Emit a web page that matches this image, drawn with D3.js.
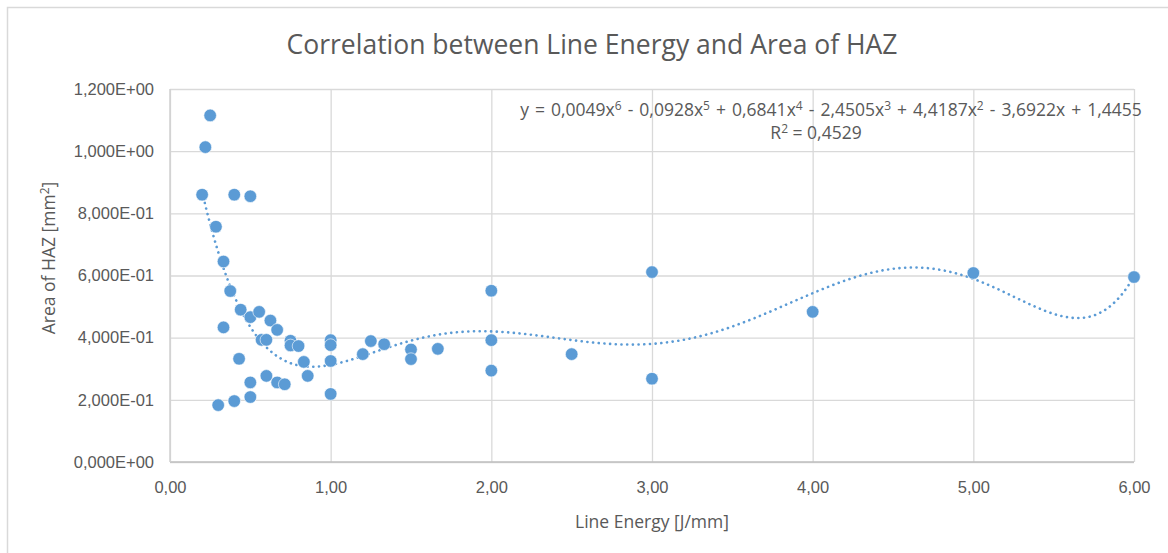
<!DOCTYPE html>
<html lang="en">
<head>
    <meta charset="UTF-8">
    <title>Correlation between Line Energy and Area of HAZ</title>
    <script src="https://d3js.org/d3.v7.min.js"></script>
    <style>
        body { margin: 0; background: #fff; font-family: "Open Sans", Arial, sans-serif; }
        .grid line { stroke: #d9d9d9; stroke-width: 1.3; }
        .tick text { fill: #595959; font-size: 16.5px; }
    </style>
</head>
<body>
    <div id="chart"></div>

    <script>
        // Line energy [J/mm] of each weld
        const lineEnergy = [
            0.20, 0.22, 0.25, 0.286, 0.30, 0.333, 0.333, 0.375, 0.40, 0.40,
            0.43, 0.44, 0.50, 0.50, 0.50, 0.50, 0.555, 0.57, 0.60, 0.60,
            0.625, 0.667, 0.667, 0.714, 0.75, 0.75, 0.80, 0.833, 0.857, 1.00,
            1.00, 1.00, 1.00, 1.20, 1.25, 1.333, 1.50, 1.50, 1.667, 2.00,
            2.00, 2.00, 2.50, 3.00, 3.00, 4.00, 5.00, 6.00
        ];

        // Area of HAZ [mm2], same order
        const hazArea = [
            0.860, 1.013, 1.115, 0.757, 0.183, 0.645, 0.433, 0.550, 0.860, 0.196,
            0.332, 0.490, 0.855, 0.466, 0.256, 0.209, 0.483, 0.393, 0.393, 0.277,
            0.455, 0.425, 0.256, 0.250, 0.390, 0.375, 0.373, 0.322, 0.277, 0.392,
            0.376, 0.325, 0.219, 0.347, 0.389, 0.379, 0.362, 0.331, 0.364, 0.551,
            0.392, 0.294, 0.347, 0.611, 0.268, 0.483, 0.608, 0.595
        ];

        const xTicks = [0, 1, 2, 3, 4, 5, 6];
        const yTicks = [0, 0.2, 0.4, 0.6, 0.8, 1.0, 1.2];

        // trendline label as shown by Excel
        const eqTerms = [
            { sign: "", coef: "0,0049", pow: "6" },
            { sign: "-", coef: "0,0928", pow: "5" },
            { sign: "+", coef: "0,6841", pow: "4" },
            { sign: "-", coef: "2,4505", pow: "3" },
            { sign: "+", coef: "4,4187", pow: "2" },
            { sign: "-", coef: "3,6922", pow: "" },
            { sign: "+", coef: "1,4455", pow: null }
        ];
        const rSquared = "0,4529";

        const width = 1168;
        const height = 553;
        const margin = { top: 89, right: 34, bottom: 91, left: 170 };
        const textColor = "#595959";
        const blue = "#5b9bd5";

        const svg = d3.select("#chart").append("svg")
            .attr("width", width)
            .attr("height", height);

        // chart frame (only top/left visible in the screenshot)
        svg.append("rect")
            .attr("x", 7.5).attr("y", 7.5)
            .attr("width", width + 20).attr("height", height + 20)
            .attr("fill", "#fff")
            .attr("stroke", "#d9d9d9")
            .attr("stroke-width", 1.5);

        const x = d3.scaleLinear().domain([0, 6]).range([margin.left, width - margin.right]);
        const y = d3.scaleLinear().domain([0, 1.2]).range([height - margin.bottom, margin.top]);

        function sci(v) {
            if (Math.abs(v) < 1e-12) return "0,000E+00";
            const e = Math.floor(Math.log10(v) + 1e-9);
            const m = v / Math.pow(10, e);
            return m.toFixed(3).replace(".", ",") + "E" + (e < 0 ? "-" : "+") + String(Math.abs(e)).padStart(2, "0");
        }

        // horizontal gridlines + y labels
        const yAxis = svg.append("g")
            .attr("class", "grid")
            .attr("transform", `translate(${margin.left},0)`)
            .call(d3.axisLeft(y)
                .tickValues(yTicks)
                .tickSize(-(width - margin.left - margin.right))
                .tickPadding(16)
                .tickFormat(sci));
        yAxis.select(".domain").remove();

        // vertical gridlines + x labels
        const xAxis = svg.append("g")
            .attr("class", "grid")
            .attr("transform", `translate(0,${height - margin.bottom})`)
            .call(d3.axisBottom(x)
                .tickValues(xTicks)
                .tickSize(-(height - margin.top - margin.bottom))
                .tickPadding(19)
                .tickFormat(d => d.toFixed(2).replace(".", ",")));
        xAxis.select(".domain").remove();

        // axis lines
        svg.append("line")
            .attr("x1", x(0)).attr("x2", x(6))
            .attr("y1", y(0)).attr("y2", y(0))
            .attr("stroke", "#bfbfbf").attr("stroke-width", 1.5);
        svg.append("line")
            .attr("x1", x(0)).attr("x2", x(0))
            .attr("y1", y(0)).attr("y2", y(1.2))
            .attr("stroke", "#d0d0d0").attr("stroke-width", 1.5);

        // 6th order polynomial least squares fit (like Excel's trendline)
        function polyFit(xs, ys, order, s) {
            const n = order + 1;
            const A = Array.from({ length: n }, () => new Array(n + 1).fill(0));
            xs.forEach((xv, k) => {
                const t = xv / s;
                const p = [];
                for (let i = 0; i < n; i++) p.push(Math.pow(t, i));
                for (let i = 0; i < n; i++) {
                    for (let j = 0; j < n; j++) A[i][j] += p[i] * p[j];
                    A[i][n] += p[i] * ys[k];
                }
            });
            for (let c = 0; c < n; c++) {
                let piv = c;
                for (let r = c + 1; r < n; r++) if (Math.abs(A[r][c]) > Math.abs(A[piv][c])) piv = r;
                [A[c], A[piv]] = [A[piv], A[c]];
                for (let r = 0; r < n; r++) {
                    if (r === c) continue;
                    const f = A[r][c] / A[c][c];
                    for (let k = c; k <= n; k++) A[r][k] -= f * A[c][k];
                }
            }
            const coef = A.map((row, i) => row[n] / row[i]);
            return v => coef.reduce((acc, c, i) => acc + c * Math.pow(v / s, i), 0);
        }

        const fit = polyFit(lineEnergy, hazArea, 6, 3);
        const xMin = d3.min(lineEnergy), xMax = d3.max(lineEnergy);
        const curve = d3.range(0, 301).map(i => xMin + (xMax - xMin) * i / 300);

        svg.append("path")
            .datum(curve)
            .attr("fill", "none")
            .attr("stroke", blue)
            .attr("stroke-width", 2.6)
            .attr("stroke-linecap", "round")
            .attr("stroke-dasharray", "0.1 5.6")
            .attr("d", d3.line().x(d => x(d)).y(d => y(fit(d))));

        // points
        svg.append("g")
            .selectAll("circle")
            .data(lineEnergy)
            .join("circle")
            .attr("cx", d => x(d))
            .attr("cy", (d, i) => y(hazArea[i]))
            .attr("r", 6.3)
            .attr("fill", blue)
            .attr("stroke", "#fff")
            .attr("stroke-width", 0.6);

        // title
        svg.append("text")
            .attr("x", 592).attr("y", 54)
            .attr("text-anchor", "middle")
            .attr("fill", textColor)
            .attr("font-size", 26.5)
            .text("Correlation between Line Energy and Area of HAZ");

        // axis titles
        svg.append("text")
            .attr("x", x(3)).attr("y", 528)
            .attr("text-anchor", "middle")
            .attr("fill", textColor)
            .attr("font-size", 17.5)
            .text("Line Energy [J/mm]");

        const yTitle = svg.append("text")
            .attr("transform", "translate(55,258) rotate(-90)")
            .attr("text-anchor", "middle")
            .attr("fill", textColor)
            .attr("font-size", 17.5);
        yTitle.append("tspan").text("Area of HAZ [mm");
        yTitle.append("tspan").attr("dy", -6).attr("font-size", 12).text("2");
        yTitle.append("tspan").attr("dy", 6).text("]");

        // trendline equation
        const eq = svg.append("text")
            .attr("x", 831).attr("y", 116)
            .attr("text-anchor", "middle")
            .attr("fill", textColor)
            .attr("font-size", 17.5)
            .attr("word-spacing", 1.5);
        eq.append("tspan").text("y = ");
        let lifted = false;
        eqTerms.forEach((t, i) => {
            eq.append("tspan")
                .attr("dy", lifted ? 6 : 0)
                .text((i > 0 ? " " + t.sign + " " : "") + t.coef + (t.pow !== null ? "x" : ""));
            lifted = false;
            if (t.pow) {
                eq.append("tspan").attr("dy", -6).attr("font-size", 12).text(t.pow);
                lifted = true;
            }
        });

        const r2 = svg.append("text")
            .attr("x", 816).attr("y", 139)
            .attr("text-anchor", "middle")
            .attr("fill", textColor)
            .attr("font-size", 17.5);
        r2.append("tspan").text("R");
        r2.append("tspan").attr("dy", -6).attr("font-size", 12).text("2");
        r2.append("tspan").attr("dy", 6).text(" = " + rSquared);
    </script>
</body>
</html>
